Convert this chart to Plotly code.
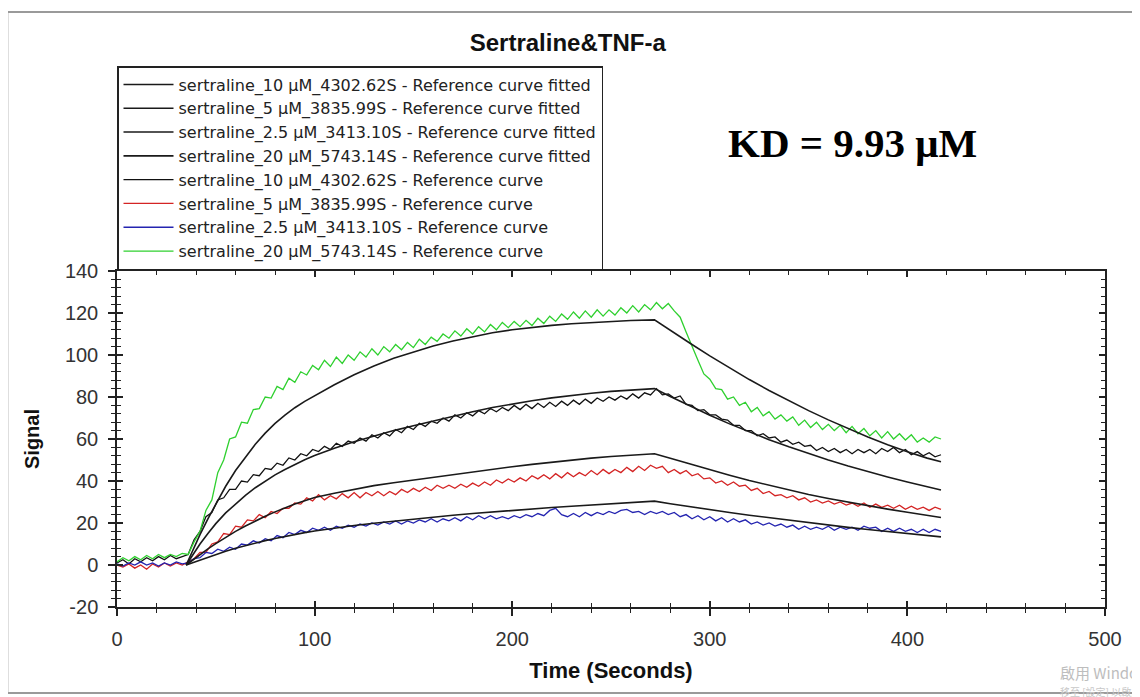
import plotly.graph_objects as go

# ---------------- data ----------------
MEAS_TIME = list(range(0, 418, 3))  # sampling grid of the measured curves, s

GREEN_20UM = [1.5, 3.5, 2, 4, 2.5, 4.5, 3, 5, 3.5, 5, 4, 5.5,
              5, 11, 16, 26, 31, 44, 50, 60, 61, 68,
              67.5, 74, 74.5, 80, 79.5, 85, 83.5, 89, 87, 92,
              90.5, 95, 93, 97.5, 94.5, 99, 96, 100, 97.5, 101.5,
              99, 103, 100, 104, 101.5, 105, 102.5, 106, 103.5, 107.5,
              105, 108.5, 106.5, 110, 108, 111.5, 109, 112.5, 110, 113.5,
              111, 114.5, 112, 115.5, 113, 116, 113.5, 116.5, 114, 117.5,
              115, 118.5, 116, 119.5, 117, 120.5, 117.5, 121, 118, 121.5,
              118.5, 121.5, 119, 122.5, 120, 123.5, 120.5, 124, 121.5, 125,
              122, 124.5, 121, 118, 111, 104, 97.5, 91, 88.5, 84,
              83.5, 79, 80, 76, 77.5, 73, 75, 71, 73, 69.5,
              71.5, 68.5, 70.5, 66.5, 69, 65.5, 68, 64.5, 67, 64,
              66.5, 63, 66, 62.5, 65, 61.5, 64, 60.5, 63.5, 60,
              62.5, 59.5, 62, 58.5, 60.5, 58.5, 61, 60]

BLACK_10UM = [1, 2.5, 0.5, 3, 1.5, 3.5, 2, 4, 2.5, 4.5, 3, 4,
              5, 12, 16, 23, 25, 31, 32, 36, 36, 40,
              39.5, 43, 42.5, 46, 45.5, 48.5, 47.5, 51, 50, 53,
              52, 55, 54, 56.5, 55, 58, 56.5, 59, 58, 60.5,
              59, 62, 60.5, 63, 61.5, 64.5, 63, 66, 64.5, 67.5,
              66, 68.5, 67.5, 70, 68.5, 71.5, 70, 72.5, 71, 73.5,
              72, 74.5, 73, 75, 73.5, 76, 74, 76.5, 74.5, 77,
              75, 77.5, 75.5, 78, 76, 78.5, 76.5, 79, 77, 79.5,
              78, 80, 78.5, 80.5, 79, 81.5, 79.5, 82, 81, 84,
              81, 81.5, 79.5, 80.5, 76.5, 76, 73.5, 74, 71.5, 71.5,
              69.5, 69, 66.5, 66.5, 64, 64, 61.5, 62.5, 60.5, 61,
              58.5, 59.5, 57.5, 58.5, 56.5, 57, 54.5, 56, 54, 55.5,
              53.5, 55, 53, 55, 53.5, 55, 53, 55.5, 54, 56,
              53.5, 55, 52.5, 54, 52, 53.5, 51.5, 52.5]

RED_5UM = [0, -1, 0.5, -1.5, 0, -2, 0.5, -1, 1, -0.5, 1, 0,
           1.5, 3, 6, 6, 10, 11, 15, 14.5, 18.5, 18,
           21.5, 21, 24, 22.5, 25.5, 24.5, 27, 27, 29.5, 29,
           32, 30.5, 33.5, 31, 33, 31.5, 34, 32, 34.5, 32,
           34.5, 33, 35, 33, 35, 33.5, 36, 34.5, 36.5, 35,
           37, 35.5, 38, 36.5, 38, 36.5, 38.5, 37, 39, 37.5,
           39.5, 38, 40.5, 39, 41, 39.5, 41.5, 40, 42.5, 41,
           43, 41, 43.5, 41.5, 44, 42, 44, 42.5, 45, 43,
           45.5, 43.5, 45.5, 44, 46.5, 44.5, 47, 45, 47.5, 46,
           47, 44, 45.5, 43.5, 45, 42.5, 43.5, 41, 41.5, 39,
           40, 38, 39.5, 37.5, 38, 35.5, 36.5, 34, 35, 33,
           33.5, 32, 33, 31, 32, 30, 31, 29.5, 30.5, 29,
           30, 28.5, 29.5, 28, 29.5, 27.5, 29, 27.5, 28.5, 27,
           28.5, 26.5, 28, 26.5, 27.5, 26, 27.5, 26.5]

BLUE_2P5UM = [0.5, -0.5, 1, 0, 1.5, 0, 1, -0.5, 1, 0, 1.5, 0.5,
              1, 3, 3.5, 6, 5.5, 7.5, 6.5, 8.5, 7.5, 10,
              9.5, 11.5, 10.5, 12.5, 11.5, 14, 13, 15.5, 14.5, 16.5,
              15.5, 17.5, 16.5, 18, 16.5, 18.5, 17.5, 19, 18, 19.5,
              18.5, 20, 19, 20.5, 19.5, 21, 19.5, 21, 20, 21.5,
              20.5, 22, 20.5, 22, 21, 22.5, 21, 23, 21.5, 23.5,
              22, 23.5, 22, 23, 22, 23.5, 22.5, 24, 23, 24.5,
              23.5, 26, 27, 24, 23, 24.5, 23, 25, 23.5, 25,
              24, 25.5, 24.5, 26, 26.5, 25, 25.5, 24, 25.5, 24.5,
              25.5, 24, 25, 23, 24, 22, 23.5, 21.5, 23, 21,
              22.5, 20.5, 22, 20.5, 21.5, 19.5, 20.5, 19, 20, 18.5,
              19.5, 18, 19, 17, 18.5, 17, 18, 17, 18.5, 16.5,
              18, 17, 18, 16.5, 18.5, 17.5, 18, 16, 17.5, 16,
              17.5, 16, 17, 15.5, 17, 15.5, 17, 16]

FIT_TIME = [35, 38, 42, 46, 50, 55, 60, 65, 70, 75, 80, 85, 90, 95, 100,
            110, 120, 130, 140, 150, 160, 170, 180, 190, 200, 210, 220, 230,
            240, 250, 260, 272, 280, 290, 300, 310, 320, 330, 340, 350, 360,
            370, 380, 390, 400, 410, 417]

FIT_20UM = [0, 6.5, 14.5, 22, 29, 37.5, 45, 51.5, 57.5, 62.8, 67.4, 71.4, 74.9,
            77.9, 80.6, 85.8, 90.6, 94.8, 98.4, 101.5, 104.3, 106.7, 108.8,
            110.6, 112, 113.2, 114.1, 114.9, 115.5, 116, 116.4, 116.7,
            111.6, 105.6, 99.6, 93.8, 88.3, 83.1, 78.2, 73.5, 69.1, 64.9, 61,
            57.3, 53.9, 50.9, 49.2]
FIT_10UM = [0, 4.5, 10, 15, 19.7, 24.8, 29.2, 33.2, 36.8, 40, 42.9, 45.5, 47.9,
            50.1, 52.1, 55.6, 58.7, 61.5, 64, 66.3, 68.6, 70.9, 73, 75, 76.7,
            78.2, 79.6, 80.8, 81.8, 82.7, 83.4, 84,
            80.2, 75.6, 71.3, 67.2, 63.3, 59.7, 56.3, 53, 50, 47.1, 44.4, 41.9,
            39.5, 37.2, 35.7]
FIT_5UM = [0, 2.2, 5, 7.7, 10.2, 13.2, 16, 18.6, 21, 23.2, 25.3, 27.2, 29, 30.6,
           32.1, 34.2, 36.1, 37.8, 39.2, 40.5, 41.8, 43.1, 44.4, 45.6, 46.8,
           47.9, 49, 50, 50.9, 51.7, 52.4, 53,
           50.8, 48, 45.3, 42.7, 40.2, 37.9, 35.7, 33.6, 31.7, 29.9, 28.2, 26.6,
           25.1, 23.7, 22.6]
FIT_2P5UM = [0, 1, 2.5, 3.9, 5.1, 6.6, 8, 9.3, 10.5, 11.6, 12.6, 13.6, 14.5, 15.4,
             16.2, 17.6, 18.8, 19.9, 20.9, 21.9, 22.8, 23.7, 24.5, 25.3, 26, 26.7,
             27.4, 28, 28.6, 29.2, 29.7, 30.4,
             29.2, 27.7, 26.3, 25, 23.7, 22.5, 21.2, 20.1, 19, 17.9, 16.9, 15.9,
             15, 14.1, 13.4]

NAMES_FIT = ["sertraline_10 μM_4302.62S - Reference curve fitted",
             "sertraline_5 μM_3835.99S - Reference curve fitted",
             "sertraline_2.5 μM_3413.10S - Reference curve fitted",
             "sertraline_20 μM_5743.14S - Reference curve fitted"]
NAMES_MEAS = ["sertraline_10 μM_4302.62S - Reference curve",
              "sertraline_5 μM_3835.99S - Reference curve",
              "sertraline_2.5 μM_3413.10S - Reference curve",
              "sertraline_20 μM_5743.14S - Reference curve"]

X_TICKS = [0, 100, 200, 300, 400, 500]
X_TICK_LABELS = ["0", "100", "200", "300", "400", "500"]
Y_TICKS = [-20, 0, 20, 40, 60, 80, 100, 120, 140]
Y_TICK_LABELS = ["-20", "0", "20", "40", "60", "80", "100", "120", "140"]

TITLE = "Sertraline&TNF-a"
KD_TEXT = "KD = 9.93 μM"

# ---------------- figure ----------------
fig = go.Figure()

meas_series = [BLACK_10UM, RED_5UM, BLUE_2P5UM, GREEN_20UM]
meas_colors = ["#111111", "#d42424", "#2424b0", "#2fd02f"]
for i, (vals, col, nm) in enumerate(zip(meas_series, meas_colors, NAMES_MEAS)):
    fig.add_trace(go.Scatter(x=MEAS_TIME, y=vals, mode="lines", name=nm,
                             line=dict(color=col, width=1.3),
                             legendrank=500 + i))

fit_series = [FIT_10UM, FIT_5UM, FIT_2P5UM, FIT_20UM]
for i, (vals, nm) in enumerate(zip(fit_series, NAMES_FIT)):
    fig.add_trace(go.Scatter(x=FIT_TIME, y=vals, mode="lines", name=nm,
                             line=dict(color="#1a1a1a", width=1.6),
                             legendrank=100 + i))

# overlay axes carrying the inner half of the crossing ticks
fig.add_trace(go.Scatter(x=[], y=[], xaxis="x2", yaxis="y2", showlegend=False,
                         hoverinfo="skip"))

axis_font = dict(family="Liberation Sans, Arial, sans-serif", size=20, color="#333333")
common = dict(showgrid=False, zeroline=False, showline=True, linecolor="#222222",
              linewidth=1.5)

fig.update_layout(
    width=1140, height=697,
    margin=dict(l=109, r=43, t=263, b=98),
    paper_bgcolor="white", plot_bgcolor="white",
    title=dict(text=TITLE, x=0.491, xanchor="center", y=0.951, yanchor="middle",
               font=dict(family="Liberation Sans, Arial, sans-serif", size=24,
                         color="#111111", weight="bold")),
    xaxis=dict(range=[0, 500], tickvals=X_TICKS, ticktext=X_TICK_LABELS,
               ticks="outside", ticklen=7, tickwidth=1.5, tickcolor="#222222",
               minor=dict(dtick=20, ticks="outside", ticklen=4, tickwidth=1.2,
                          tickcolor="#222222"),
               mirror=True, tickfont=axis_font, ticklabelstandoff=6,
               title=dict(text="Time (Seconds)", standoff=14,
                          font=dict(family="Liberation Sans, Arial, sans-serif",
                                    size=22, color="#111111", weight="bold")),
               **common),
    yaxis=dict(range=[-20, 140], tickvals=Y_TICKS, ticktext=Y_TICK_LABELS,
               ticks="outside", ticklen=7, tickwidth=1.5, tickcolor="#222222",
               minor=dict(dtick=4, ticks="outside", ticklen=4, tickwidth=1.2,
                          tickcolor="#222222"),
               mirror=True, tickfont=axis_font, ticklabelstandoff=6,
               title=dict(text="Signal", standoff=20,
                          font=dict(family="Liberation Sans, Arial, sans-serif",
                                    size=20, color="#111111", weight="bold")),
               **common),
    xaxis2=dict(range=[0, 500], overlaying="x", anchor="y", side="bottom",
                tickvals=X_TICKS, showticklabels=False, ticks="inside", ticklen=6,
                tickwidth=1.5, tickcolor="#222222",
                minor=dict(dtick=20, ticks="inside", ticklen=4, tickwidth=1.2,
                           tickcolor="#222222"),
                mirror="allticks", showgrid=False, zeroline=False, showline=False),
    yaxis2=dict(range=[-20, 140], overlaying="y", anchor="x", side="left",
                tickvals=Y_TICKS, showticklabels=False, ticks="inside", ticklen=6,
                tickwidth=1.5, tickcolor="#222222",
                minor=dict(dtick=4, ticks="inside", ticklen=4, tickwidth=1.2,
                           tickcolor="#222222"),
                mirror="allticks", showgrid=False, zeroline=False, showline=False),
    legend=dict(x=0, xanchor="left", y=1.61, yanchor="top",
                bgcolor="white", bordercolor="#222222", borderwidth=1.5,
                font=dict(family="DejaVu Sans, sans-serif", size=16, color="#222222"),
                itemwidth=50, tracegroupgap=0),
    showlegend=True,
)

fig.add_annotation(text=KD_TEXT, xref="paper", yref="paper", x=0.744, y=1.38,
                   xanchor="center", yanchor="middle", showarrow=False,
                   font=dict(family="Liberation Serif, Times New Roman, serif",
                             size=41, color="#000000", weight="bold"))

# window frame of the screenshot
frame = "#9a9a9a"
fig.add_shape(type="line", xref="paper", yref="paper", x0=-0.12, x1=1.05,
              y0=1.789, y1=1.789, line=dict(color=frame, width=2))
fig.add_shape(type="line", xref="paper", yref="paper", x0=-0.111, x1=1.05,
              y0=1.771, y1=1.771, line=dict(color=frame, width=2))
fig.add_shape(type="line", xref="paper", yref="paper", x0=-0.111, x1=-0.111,
              y0=1.771, y1=-0.256, line=dict(color=frame, width=2))
fig.add_shape(type="line", xref="paper", yref="paper", x0=-0.111, x1=1.05,
              y0=-0.256, y1=-0.256, line=dict(color=frame, width=2))

# OS watermark visible at the bottom-right corner of the screenshot
fig.add_annotation(text="啟用 Windows", xref="paper", yref="paper", x=0.952,
                   y=-0.194, xanchor="left", yanchor="middle", showarrow=False,
                   font=dict(family="Noto Sans CJK TC", size=15, color="#bdbdbd"))
fig.add_annotation(text="移至 [設定] 以啟用 Windows。", xref="paper", yref="paper",
                   x=0.952, y=-0.25, xanchor="left", yanchor="middle",
                   showarrow=False,
                   font=dict(family="Noto Sans CJK TC", size=10, color="#c8c8c8"))

fig.write_html("out.html")
